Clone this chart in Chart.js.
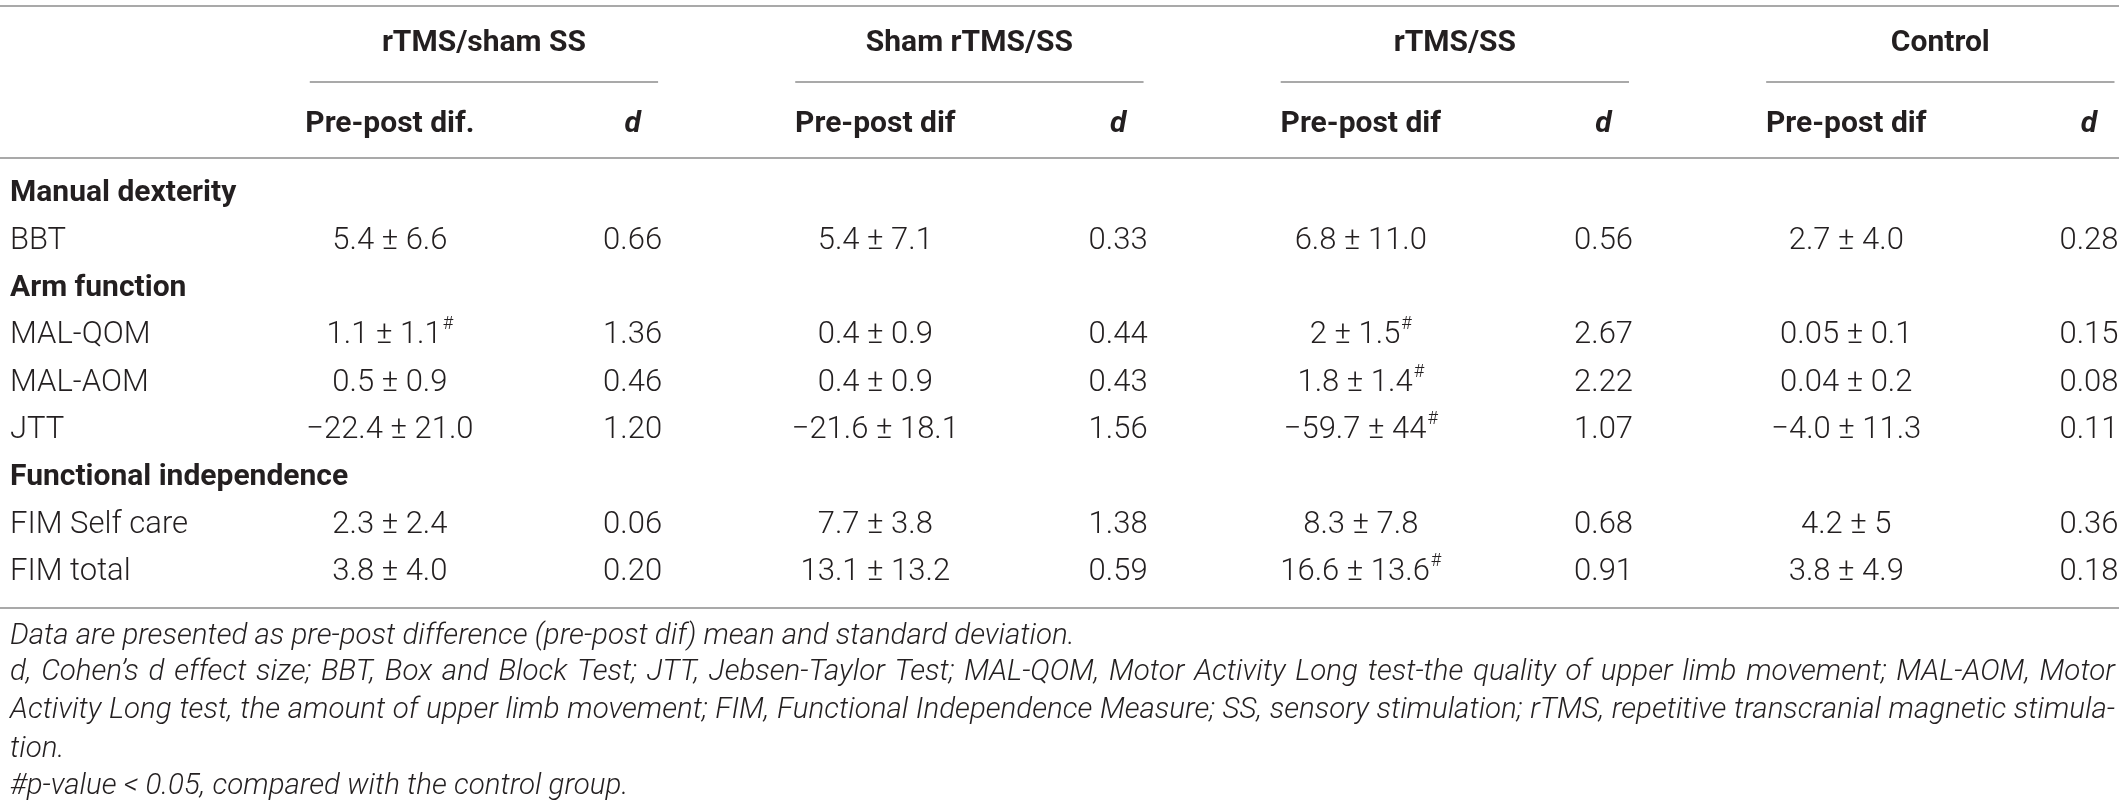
<!DOCTYPE html>
<html>
<head>
<meta charset="utf-8">
<script src="https://cdn.jsdelivr.net/npm/chart.js@4.4.0/dist/chart.umd.min.js"></script>
<style>
  html, body { margin: 0; padding: 0; background: #fff; }
  #wrap { width: 2123px; height: 806px; position: relative; }
</style>
</head>
<body>
<div id="wrap"><canvas id="tableChart"></canvas></div>
<script>
const groups = ['rTMS/sham SS', 'Sham rTMS/SS', 'rTMS/SS', 'Control'];
const subHeaders = ['Pre-post dif.', 'd', 'Pre-post dif', 'd', 'Pre-post dif', 'd', 'Pre-post dif', 'd'];
const rowLabels = ['Manual dexterity', 'BBT', 'Arm function', 'MAL-QOM', 'MAL-AOM', 'JTT',
  'Functional independence', 'FIM Self care', 'FIM total'];
const sections = ['Manual dexterity', 'Arm function', 'Functional independence'];
const measures = ['BBT', 'MAL-QOM', 'MAL-AOM', 'JTT', 'FIM Self care', 'FIM total'];

// pre-post difference, mean ± sd ('#' = p < 0.05 vs control) and Cohen's d
const rtmsShamSsDif = ['5.4 ± 6.6', '1.1 ± 1.1#', '0.5 ± 0.9', '−22.4 ± 21.0', '2.3 ± 2.4', '3.8 ± 4.0'];
const rtmsShamSsD = ['0.66', '1.36', '0.46', '1.20', '0.06', '0.20'];
const shamRtmsSsDif = ['5.4 ± 7.1', '0.4 ± 0.9', '0.4 ± 0.9', '−21.6 ± 18.1', '7.7 ± 3.8', '13.1 ± 13.2'];
const shamRtmsSsD = ['0.33', '0.44', '0.43', '1.56', '1.38', '0.59'];
const rtmsSsDif = ['6.8 ± 11.0', '2 ± 1.5#', '1.8 ± 1.4#', '−59.7 ± 44#', '8.3 ± 7.8', '16.6 ± 13.6#'];
const rtmsSsD = ['0.56', '2.67', '2.22', '1.07', '0.68', '0.91'];
const controlDif = ['2.7 ± 4.0', '0.05 ± 0.1', '0.04 ± 0.2', '−4.0 ± 11.3', '4.2 ± 5', '3.8 ± 4.9'];
const controlD = ['0.28', '0.15', '0.08', '0.11', '0.36', '0.18'];

const footnotes = [
  'Data are presented as pre-post difference (pre-post dif) mean and standard deviation.',
  'd, Cohen’s d effect size; BBT, Box and Block Test; JTT, Jebsen-Taylor Test; MAL-QOM, Motor Activity Long test-the quality of upper limb movement; MAL-AOM, Motor',
  'Activity Long test, the amount of upper limb movement; FIM, Functional Independence Measure; SS, sensory stimulation; rTMS, repetitive transcranial magnetic stimula-',
  'tion.',
  '#p-value < 0.05, compared with the control group.'
];
const justified = [false, true, true, false, false];

const columns = [rtmsShamSsDif, rtmsShamSsD, shamRtmsSsDif, shamRtmsSsD, rtmsSsDif, rtmsSsD, controlDif, controlD];

const INK = '#231f20';
const RULE = '#8c8c8c';
const FONT = 'Roboto, "Liberation Sans", sans-serif';
const LABEL_X = -0.565;

// one point per cell: x = column index, y = row index
const cells = [];
rowLabels.forEach((label, r) => {
  cells.push({ x: LABEL_X, y: r, text: label, kind: sections.includes(label) ? 'section' : 'label' });
  const m = measures.indexOf(label);
  if (m < 0) return;
  columns.forEach((col, c) => cells.push({ x: c + 1, y: r, text: col[m], kind: 'value' }));
});

function drawValue(ctx, text, cx, cy) {
  const sig = text.includes('#');
  const main = text.replace('#', '');
  ctx.font = '300 31px ' + FONT;
  const w = ctx.measureText(main).width;
  ctx.font = '300 18px ' + FONT;
  const sw = sig ? ctx.measureText('#').width + 1 : 0;
  const x0 = cx - (w + sw) / 2;
  ctx.textAlign = 'left';
  ctx.font = '300 31px ' + FONT;
  ctx.fillText(main, x0, cy);
  if (sig) {
    ctx.font = '300 18px ' + FONT;
    ctx.fillText('#', x0 + w + 1, cy - 11);
  }
}

function drawJustified(ctx, text, x0, x1, y, size) {
  const words = text.split(' ');
  let widths, total, gap;
  // shrink only if the line would not fit
  for (let s = size; s > 20; s -= 0.5) {
    ctx.font = 'italic 300 ' + s + 'px ' + FONT;
    widths = words.map(w => ctx.measureText(w).width);
    total = widths.reduce((a, b) => a + b, 0);
    gap = (x1 - x0 - total) / (words.length - 1);
    if (gap >= 5) break;
  }
  let x = x0;
  words.forEach((w, i) => {
    ctx.fillText(w, x, y);
    x += widths[i] + gap;
  });
}

const tablePlugin = {
  id: 'tableText',
  afterDatasetsDraw(chart) {
    const { ctx, chartArea, scales: { x, y } } = chart;
    const W = chart.width;
    ctx.save();
    ctx.fillStyle = INK;
    ctx.strokeStyle = RULE;
    ctx.lineWidth = 1.6;
    ctx.textBaseline = 'middle';

    const hline = (x0, x1, py) => {
      ctx.beginPath();
      ctx.moveTo(x0, py);
      ctx.lineTo(x1, py);
      ctx.stroke();
    };

    // rules
    hline(0, W - 4, chartArea.top - 164);
    hline(0, W - 4, chartArea.top - 12);
    hline(0, W - 4, chartArea.bottom + 12);

    // group headers with their underlines
    groups.forEach((g, k) => {
      const a = x.getPixelForValue(2 * k + 1 - 0.33);
      const b = x.getPixelForValue(2 * k + 2 + 0.105);
      hline(a, b, chartArea.top - 88);
      ctx.font = 'bold 30px ' + FONT;
      ctx.textAlign = 'center';
      ctx.fillText(g, (a + b) / 2, chartArea.top - 127);
    });

    // sub headers
    subHeaders.forEach((s, c) => {
      ctx.font = (s === 'd' ? 'italic bold 30px ' : 'bold 30px ') + FONT;
      ctx.textAlign = 'center';
      ctx.fillText(s, x.getPixelForValue(c + 1), chartArea.top - 46);
    });

    // body cells, placed at their points
    const meta = chart.getDatasetMeta(0);
    meta.data.forEach((pt, i) => {
      const cell = chart.data.datasets[0].data[i];
      if (cell.kind === 'value') {
        drawValue(ctx, cell.text, pt.x, pt.y);
      } else {
        ctx.textAlign = 'left';
        ctx.font = (cell.kind === 'section' ? 'bold 30px ' : '300 31px ') + FONT;
        ctx.fillText(cell.text, pt.x, pt.y);
      }
    });

    // footnotes
    const fy = [41, 77, 115, 154, 191];
    ctx.textAlign = 'left';
    footnotes.forEach((t, i) => {
      const py = chartArea.bottom + fy[i];
      if (justified[i]) {
        drawJustified(ctx, t, chartArea.left, W - 8, py, 29.5);
      } else {
        ctx.font = 'italic 300 29.5px ' + FONT;
        ctx.fillText(t, chartArea.left, py);
      }
    });
    ctx.restore();
  }
};

new Chart(document.getElementById('tableChart'), {
  type: 'scatter',
  data: {
    datasets: [{
      label: 'cells',
      data: cells,
      pointRadius: 0,
      pointHoverRadius: 0
    }]
  },
  options: {
    responsive: true,
    maintainAspectRatio: false,
    animation: false,
    events: [],
    layout: { padding: { left: 10, right: 34, top: 170, bottom: 210 } },
    plugins: { legend: { display: false }, tooltip: { enabled: false } },
    scales: {
      x: { type: 'linear', display: false, min: LABEL_X, max: 8 },
      y: { type: 'linear', display: false, min: -0.5, max: 8.5, reverse: true }
    }
  },
  plugins: [tablePlugin]
});
</script>
</body>
</html>
